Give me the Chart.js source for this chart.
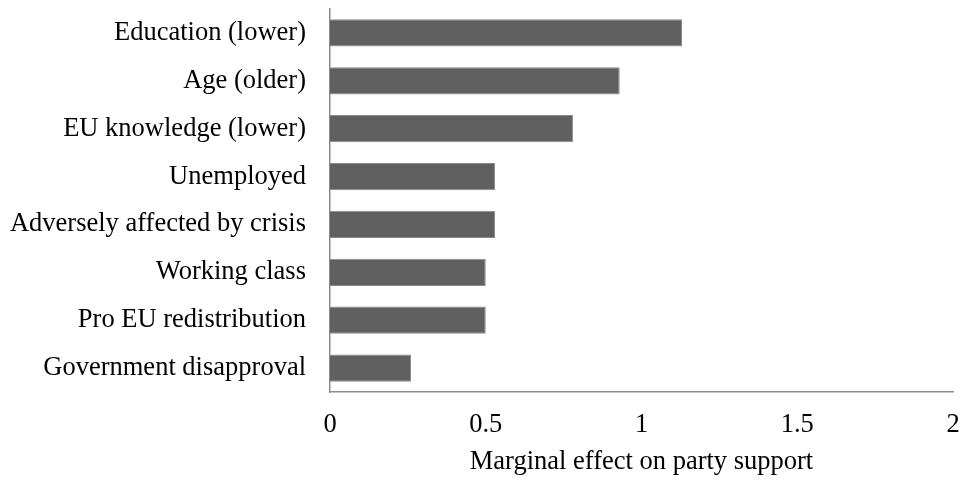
<!DOCTYPE html>
<html>
<head>
<meta charset="utf-8">
<script src="https://cdn.jsdelivr.net/npm/chart.js@4/dist/chart.umd.min.js"></script>
<style>
  html, body { margin: 0; padding: 0; background: #ffffff; }
  #wrap { width: 963px; height: 480px; position: relative; }
</style>
</head>
<body>
<div id="wrap"><canvas id="c" width="963" height="480"></canvas></div>
<script>
const categories = [
  "Education (lower)",
  "Age (older)",
  "EU knowledge (lower)",
  "Unemployed",
  "Adversely affected by crisis",
  "Working class",
  "Pro EU redistribution",
  "Government disapproval"
];
const marginalEffect = [1.13, 0.93, 0.78, 0.53, 0.53, 0.50, 0.50, 0.26];
const xTicks = [0, 0.5, 1, 1.5, 2];
const xTitle = "Marginal effect on party support";

const FONT = "'Liberation Serif', 'Times New Roman', serif";
const FSIZE = 26.5;

function zeroPad(s) {
  s.paddingTop = 0; s.paddingBottom = 0; s.paddingLeft = 0; s.paddingRight = 0;
}

new Chart(document.getElementById('c'), {
  type: 'bar',
  data: {
    labels: categories,
    datasets: [{
      data: marginalEffect,
      backgroundColor: '#606060',
      borderColor: '#8a8a8a',
      borderWidth: 1,
      categoryPercentage: 1.0,
      barPercentage: 0.57
    }]
  },
  options: {
    indexAxis: 'y',
    responsive: false,
    animation: false,
    devicePixelRatio: 1,
    layout: { padding: { top: 9, right: 10, bottom: 0, left: 0 } },
    plugins: { legend: { display: false }, tooltip: { enabled: false } },
    scales: {
      x: {
        min: 0, max: 2,
        afterBuildTicks: (s) => { s.ticks = xTicks.map(v => ({ value: v })); },
        grid: { display: false, drawTicks: false },
        border: { display: true, color: '#8c8c8c', width: 1.5 },
        ticks: {
          color: '#000000',
          padding: 17,
          font: { family: FONT, size: FSIZE },
          callback: (v) => String(v)
        },
        title: {
          display: true,
          text: xTitle,
          color: '#000000',
          font: { family: FONT, size: FSIZE },
          padding: { top: 0, bottom: 2 }
        },
        afterFit: (s) => { s.height = 88; zeroPad(s); }
      },
      y: {
        grid: { display: false, drawTicks: false },
        border: { display: true, color: '#8c8c8c', width: 1.5 },
        ticks: {
          color: '#000000',
          padding: 24,
          font: { family: FONT, size: FSIZE }
        },
        afterFit: (s) => { s.width = 330; zeroPad(s); }
      }
    }
  }
});
</script>
</body>
</html>
